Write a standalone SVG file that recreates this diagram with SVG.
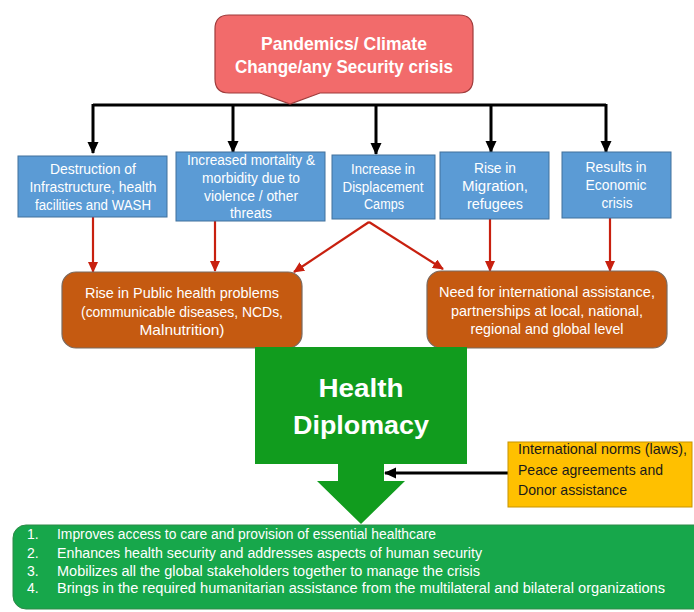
<svg xmlns="http://www.w3.org/2000/svg" width="694" height="612" viewBox="0 0 694 612">
<defs>
<marker id="ahBlack" markerUnits="userSpaceOnUse" markerWidth="12" markerHeight="12" refX="11" refY="6" orient="auto">
<path d="M0,0.5 L12,6 L0,11.5 z" fill="#000"/>
</marker>
<marker id="ahRed" markerUnits="userSpaceOnUse" markerWidth="11" markerHeight="10" refX="10" refY="5" orient="auto">
<path d="M0,0 L11,5 L0,10 z" fill="#C8200F"/>
</marker>
<style>
.blue{fill:#5B9BD5;stroke:#41719C;stroke-width:1}
.orange{fill:#C55A11;stroke:#7A6A60;stroke-width:1.2}
.wt{font-family:"Liberation Sans",Arial,sans-serif;fill:#fff;text-anchor:middle}
.bt{font-size:14px}
.ot{font-size:14.5px}
.blk{stroke:#000;stroke-width:3;fill:none}
.red{stroke:#C8200F;stroke-width:2.2;fill:none}
.lst{font-family:"Liberation Sans",Arial,sans-serif;fill:#fff;font-size:14px}
.dk{font-family:"Liberation Sans",Arial,sans-serif;fill:#1a1a1a;font-size:14.5px}
</style>
</defs>
<rect width="694" height="612" fill="#fff"/>

<g id="connectors">
<path class="blk" d="M93,105 H606"/>
<line class="blk" x1="93" y1="104" x2="93" y2="153" marker-end="url(#ahBlack)"/>
<line class="blk" x1="233" y1="104" x2="233" y2="152" marker-end="url(#ahBlack)"/>
<line class="blk" x1="376" y1="104" x2="376" y2="154" marker-end="url(#ahBlack)"/>
<line class="blk" x1="491" y1="104" x2="491" y2="152" marker-end="url(#ahBlack)"/>
<line class="blk" x1="606" y1="104" x2="606" y2="152" marker-end="url(#ahBlack)"/>
<line class="red" x1="93" y1="217" x2="93" y2="272" marker-end="url(#ahRed)"/>
<line class="red" x1="215" y1="221" x2="215" y2="271" marker-end="url(#ahRed)"/>
<line class="red" x1="369" y1="222" x2="294" y2="272" marker-end="url(#ahRed)"/>
<line class="red" x1="369" y1="222" x2="443" y2="269" marker-end="url(#ahRed)"/>
<line class="red" x1="490" y1="219" x2="490" y2="271" marker-end="url(#ahRed)"/>
<line class="red" x1="610" y1="218" x2="610" y2="271" marker-end="url(#ahRed)"/>
<line class="blk" x1="509" y1="473" x2="385" y2="473" marker-end="url(#ahBlack)"/>
</g>

<g id="crisis">
<path d="M229,15 H459 Q473,15 473,29 V79 Q473,93 459,93 H320 L290,104 L260,93 H229 Q215,93 215,79 V29 Q215,15 229,15 Z" fill="#F26B6B" stroke="#9E3B3B" stroke-width="1.2"/>
<text class="wt" font-weight="bold" font-size="18.5" x="344" y="50" textLength="166" lengthAdjust="spacingAndGlyphs">Pandemics/ Climate</text>
<text class="wt" font-weight="bold" font-size="18.5" x="344" y="73" textLength="218" lengthAdjust="spacingAndGlyphs">Change/any Security crisis</text>
</g>

<g id="destruction">
<rect class="blue" x="18" y="156" width="149" height="61"/>
<text class="wt bt" x="93" y="174" textLength="86" lengthAdjust="spacingAndGlyphs">Destruction of</text>
<text class="wt bt" x="93" y="192" textLength="127" lengthAdjust="spacingAndGlyphs">Infrastructure, health</text>
<text class="wt bt" x="93" y="210" textLength="116" lengthAdjust="spacingAndGlyphs">facilities and WASH</text>
</g>

<g id="mortality">
<rect class="blue" x="176" y="152" width="149" height="69"/>
<text class="wt bt" x="251" y="165" textLength="128" lengthAdjust="spacingAndGlyphs">Increased mortality &amp;</text>
<text class="wt bt" x="251" y="183" textLength="98" lengthAdjust="spacingAndGlyphs">morbidity due to</text>
<text class="wt bt" x="251" y="201" textLength="94" lengthAdjust="spacingAndGlyphs">violence / other</text>
<text class="wt bt" x="251" y="218" textLength="42" lengthAdjust="spacingAndGlyphs">threats</text>
</g>

<g id="displacement">
<rect class="blue" x="332" y="155" width="103" height="64"/>
<text class="wt bt" x="383" y="174" textLength="64" lengthAdjust="spacingAndGlyphs">Increase in</text>
<text class="wt bt" x="383" y="192" textLength="81" lengthAdjust="spacingAndGlyphs">Displacement</text>
<text class="wt bt" x="384" y="209" textLength="40" lengthAdjust="spacingAndGlyphs">Camps</text>
</g>

<g id="migration">
<rect class="blue" x="440" y="152" width="109" height="67"/>
<text class="wt bt" x="495" y="173" textLength="42" lengthAdjust="spacingAndGlyphs">Rise in</text>
<text class="wt bt" x="495" y="191" textLength="66" lengthAdjust="spacingAndGlyphs">Migration,</text>
<text class="wt bt" x="495" y="209" textLength="56" lengthAdjust="spacingAndGlyphs">refugees</text>
</g>

<g id="economic">
<rect class="blue" x="562" y="152" width="109" height="66"/>
<text class="wt bt" x="616" y="172" textLength="61" lengthAdjust="spacingAndGlyphs">Results in</text>
<text class="wt bt" x="616" y="190" textLength="61" lengthAdjust="spacingAndGlyphs">Economic</text>
<text class="wt bt" x="617" y="208" textLength="31" lengthAdjust="spacingAndGlyphs">crisis</text>
</g>

<g id="publichealth">
<rect class="orange" x="62" y="272" width="240" height="76" rx="14"/>
<text class="wt ot" x="182" y="298" textLength="194" lengthAdjust="spacingAndGlyphs">Rise in Public health problems</text>
<text class="wt ot" x="182" y="317" textLength="202" lengthAdjust="spacingAndGlyphs">(communicable diseases, NCDs,</text>
<text class="wt ot" x="182" y="335" textLength="85" lengthAdjust="spacingAndGlyphs">Malnutrition)</text>
</g>

<g id="assistance">
<rect class="orange" x="427" y="271" width="240" height="77" rx="14"/>
<text class="wt ot" x="547" y="297" textLength="216" lengthAdjust="spacingAndGlyphs">Need for international assistance,</text>
<text class="wt ot" x="547" y="316" textLength="192" lengthAdjust="spacingAndGlyphs">partnerships at local, national,</text>
<text class="wt ot" x="547" y="334" textLength="153" lengthAdjust="spacingAndGlyphs">regional and global level</text>
</g>

<g id="diplomacy">
<path d="M255,347 H467 V464 H384 V481 H405 L361,524 L317,481 H338 V464 H255 Z" fill="#119C1E"/>
<text class="wt" font-weight="bold" font-size="26" x="361" y="397" textLength="85" lengthAdjust="spacingAndGlyphs">Health</text>
<text class="wt" font-weight="bold" font-size="26" x="361" y="434" textLength="136" lengthAdjust="spacingAndGlyphs">Diplomacy</text>
</g>

<g id="norms">
<rect x="508" y="442" width="184" height="65" fill="#FFC000" stroke="#C89400" stroke-width="1"/>
<text class="dk" x="518" y="454" textLength="169" lengthAdjust="spacingAndGlyphs">International norms (laws),</text>
<text class="dk" x="518" y="475" textLength="145" lengthAdjust="spacingAndGlyphs">Peace agreements and</text>
<text class="dk" x="518" y="495" textLength="109" lengthAdjust="spacingAndGlyphs">Donor assistance</text>
</g>

<g id="outcomes">
<rect x="13" y="525" width="700" height="84" rx="13" fill="#17A74B" stroke="#2E8A48" stroke-width="1"/>
<text class="lst" x="27" y="539">1.</text>
<text class="lst" x="57" y="539" textLength="379" lengthAdjust="spacingAndGlyphs">Improves access to care and provision of essential healthcare</text>
<text class="lst" x="27" y="558">2.</text>
<text class="lst" x="57" y="558" textLength="425" lengthAdjust="spacingAndGlyphs">Enhances health security and addresses aspects of human security</text>
<text class="lst" x="27" y="576">3.</text>
<text class="lst" x="57" y="576" textLength="423" lengthAdjust="spacingAndGlyphs">Mobilizes all the global stakeholders together to manage the crisis</text>
<text class="lst" x="27" y="593">4.</text>
<text class="lst" x="57" y="593" textLength="608" lengthAdjust="spacingAndGlyphs">Brings in the required humanitarian assistance from the multilateral and bilateral organizations</text>
</g>
</svg>
